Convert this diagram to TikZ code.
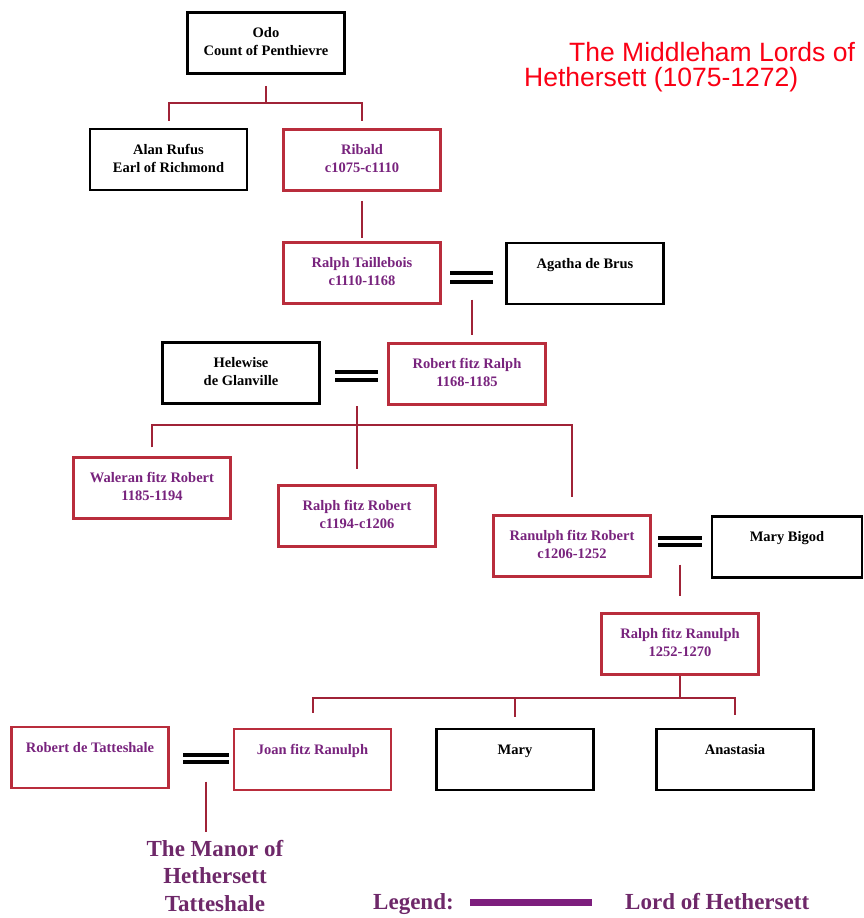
\documentclass[tikz,border=0pt]{standalone}
\usepackage{fontspec}
\setmainfont{Liberation Serif}
\newfontfamily\ttlfont{Liberation Sans}
\usetikzlibrary{calc}
\definecolor{lordred}{RGB}{185,45,60}
\definecolor{linkred}{RGB}{160,35,55}
\definecolor{lordpurple}{RGB}{120,35,125}
\definecolor{legpurple}{RGB}{110,40,105}
\definecolor{barpurple}{RGB}{125,30,125}
\definecolor{ttlred}{RGB}{250,0,20}
\newcommand\famtxt[2][157]{\parbox[t][61pt][t]{#1pt}{\centering\rule{0pt}{25pt}#2}}
\tikzset{
  boxfont/.style={font=\bfseries\fontsize{14.5}{18}\selectfont},
  lord/.style={boxfont, draw=lordred, line width=2.5pt, inner sep=0pt, text=lordpurple},
  other/.style={boxfont, draw=black, line width=2.5pt, inner sep=0pt, text=black},
  conn/.style={draw=linkred, line width=2pt},
  wed/.style={draw=black, line width=3.5pt},
  ttl/.style={font=\ttlfont\fontsize{26.5}{26.5}\selectfont, text=ttlred, inner sep=0pt},
  leg/.style={font=\bfseries\fontsize{23}{27.5}\selectfont, text=legpurple, inner sep=0pt, align=center}
}
\begin{document}
\begin{tikzpicture}[x=1pt,y=-1pt]
\useasboundingbox (0,0) rectangle (864,918);
% title
\node[ttl, anchor=base west] (t1) at (569,61) {The Middleham Lords of};
\node[ttl, anchor=base west] (t2) at (524,86) {Hethersett (1075-1272)};
% boxes
\node[other] (odo) at (266,43) {\famtxt{Odo\\Count of Penthievre}};
\node[other] (alan) at (168.5,159.5) {\famtxt{Alan Rufus\\Earl of Richmond}};
\node[lord] (ribald) at (362,160) {\famtxt{Ribald\\c1075-c1110}};
\node[lord] (ralpht) at (362,273) {\famtxt{Ralph Taillebois\\c1110-1168}};
\node[other] (agatha) at (585,273.5) {\famtxt{Agatha de Brus}};
\node[other] (helewise) at (241,373) {\famtxt{Helewise\\de Glanville}};
\node[lord] (robertfr) at (467,374) {\famtxt{Robert fitz Ralph\\1168-1185}};
\node[lord] (waleran) at (152,488) {\famtxt{Waleran fitz Robert\\1185-1194}};
\node[lord] (ralphfr) at (357,516) {\famtxt{Ralph fitz Robert\\c1194-c1206}};
\node[lord] (ranulph) at (572,546) {\famtxt{Ranulph fitz Robert\\c1206-1252}};
\node[other] (marybigod) at (787,547) {\famtxt[150]{Mary Bigod}};
\node[lord] (ralphfrn) at (680,644) {\famtxt{Ralph fitz Ranulph\\1252-1270}};
\node[lord] (robertdt) at (90,757.5) {\famtxt{Robert de Tatteshale}};
\node[lord] (joan) at (312.5,759.5) {\famtxt{Joan fitz Ranulph}};
\node[other] (mary) at (515,759.5) {\famtxt{Mary}};
\node[other] (anastasia) at (735,759.5) {\famtxt{Anastasia}};
% manor text
\node[leg, anchor=north] (manor) at (215,840) {The Manor of\\Hethersett\\Tatteshale};
% legend
\node[leg, anchor=base west] (lg) at (373,909) {Legend:};
\node[fill=barpurple, minimum width=122pt, minimum height=7pt, inner sep=0pt] (bar) at (531,902.5) {};
\node[leg, anchor=base west] (lh) at (625,909) {Lord of Hethersett};
% junctions and marriages
\coordinate (j1) at (266,103);
\coordinate (w1) at (471.5,277.5);
\coordinate (w2) at (356.5,376);
\coordinate (j2) at (357,425);
\coordinate (w3) at (680,541.5);
\coordinate (j3) at (680,698);
\coordinate (w4) at (206,758.5);
% Odo's children
\draw[conn] ([yshift=-11]odo.south) -- (j1);
\draw[conn] (j1) -| ([yshift=7]alan.north);
\draw[conn] (j1) -| ([yshift=7]ribald.north);
\draw[conn] ([yshift=-9]ribald.south) -- ([yshift=3]ralpht.north);
% marriage 1
\draw[wed] ([xshift=-21.5,yshift=4.5]w1) -- ([xshift=21.5,yshift=4.5]w1);
\draw[wed] ([xshift=-21.5,yshift=-4.5]w1) -- ([xshift=21.5,yshift=-4.5]w1);
\draw[conn] ([yshift=-22]w1) -- ([yshift=7]robertfr.north -| w1);
% marriage 2
\draw[wed] ([xshift=-21.5,yshift=4]w2) -- ([xshift=21.5,yshift=4]w2);
\draw[wed] ([xshift=-21.5,yshift=-4]w2) -- ([xshift=21.5,yshift=-4]w2);
\draw[conn] ([yshift=-30]w2) -- ([yshift=15]ralphfr.north -| w2);
\draw[conn] ([yshift=9]waleran.north) |- (j2) -| ([yshift=17]ranulph.north);
% marriage 3
\draw[wed] ([xshift=-22,yshift=3.5]w3) -- ([xshift=22,yshift=3.5]w3);
\draw[wed] ([xshift=-22,yshift=-3.5]w3) -- ([xshift=22,yshift=-3.5]w3);
\draw[conn] ([yshift=-23]w3) -- ([yshift=16]ralphfrn.north -| w3);
% Ralph fitz Ranulph's children
\draw[conn] (ralphfrn.south) -- (j3);
\draw[conn] ([yshift=15]joan.north) |- (j3) -| ([yshift=13]anastasia.north);
\draw[conn] (j3 -| mary.north) -- ([yshift=11]mary.north);
% marriage 4
\draw[wed] ([xshift=-23,yshift=3.5]w4) -- ([xshift=23,yshift=3.5]w4);
\draw[wed] ([xshift=-23,yshift=-3.5]w4) -- ([xshift=23,yshift=-3.5]w4);
\draw[conn] ([yshift=-23]w4) -- ([yshift=8]manor.north -| w4);
\end{tikzpicture}
\end{document}
